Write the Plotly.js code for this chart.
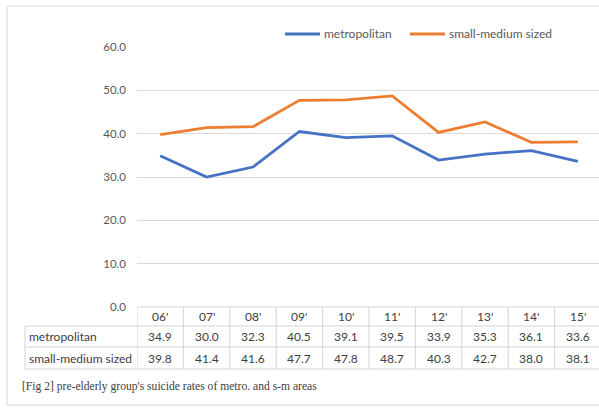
<!DOCTYPE html>
<html>
<head>
<meta charset="utf-8">
<script src="https://cdn.plot.ly/plotly-3.0.1.min.js"></script>
<style>
html, body { margin:0; padding:0; overflow:hidden; background:#fff; }
#chart { width:601px; height:413px; }
</style>
</head>
<body>
<div id="chart"></div>
<script>
var years = ["06'", "07'", "08'", "09'", "10'", "11'", "12'", "13'", "14'", "15'"];
var metroName = "metropolitan";
var smName = "small-medium sized";
var metro = [34.9, 30.0, 32.3, 40.5, 39.1, 39.5, 33.9, 35.3, 36.1, 33.6];
var smallMedium = [39.8, 41.4, 41.6, 47.7, 47.8, 48.7, 40.3, 42.7, 38.0, 38.1];
var caption = "[Fig 2] pre-elderly group's suicide rates of metro. and s-m areas";
var seriesNames = [metroName, smName];
var seriesColors = ["#4472C4", "#ED7D31"];

var W = 601, H = 413, L = 137, T = 47, B = 106, R = 0;
var pw = W - L - R, ph = H - T - B;
function px(x) { return (x - L) / pw; }
function py(y) { return (H - B - y) / ph; }

var FONT = "Lato, 'Open Sans', sans-serif";
var lineCol = "#d4d4d4";
var txtCol = "#404040";
var idx = years.map(function(_, i){ return i; });

var traces = [
  { x: idx, y: metro, name: metroName, type: "scatter", mode: "lines",
    line: { color: seriesColors[0], width: 2.8 }, hoverinfo: "skip", showlegend: false },
  { x: idx, y: smallMedium, name: smName, type: "scatter", mode: "lines",
    line: { color: seriesColors[1], width: 2.8 }, hoverinfo: "skip", showlegend: false }
];

var shapes = [];
var annotations = [];
var rowTop = 307, r1 = 326, r2 = 347, r3 = 369, leftX = 25;

// horizontal table lines
shapes.push({ type:"line", xref:"paper", yref:"paper", x0:0, x1:1, y0:py(rowTop), y1:py(rowTop), line:{color:lineCol, width:1} });
[r1, r2, r3].forEach(function(y){
  shapes.push({ type:"line", xref:"paper", yref:"paper", x0:px(leftX), x1:1, y0:py(y), y1:py(y), line:{color:lineCol, width:1} });
});
// vertical lines
shapes.push({ type:"line", xref:"paper", yref:"paper", x0:px(leftX), x1:px(leftX), y0:py(r1), y1:py(r3), line:{color:lineCol, width:1} });
for (var i = 0; i <= years.length; i++) {
  shapes.push({ type:"line", xref:"x", yref:"paper", x0:i-0.5, x1:i-0.5, y0:py(rowTop), y1:py(r3), line:{color:lineCol, width:1} });
}
// outer frame
shapes.push({ type:"rect", xref:"paper", yref:"paper", x0:px(7), x1:px(640), y0:py(6), y1:py(405), line:{color:"#d9d9d9", width:1}, layer:"below" });

// legend (manual, Excel style)
var legX = [285, 410];
seriesNames.forEach(function(nm, k){
  shapes.push({ type:"line", xref:"paper", yref:"paper", x0:px(legX[k]), x1:px(legX[k]+35), y0:py(34), y1:py(34),
    line:{color:seriesColors[k], width:2.8} });
  annotations.push({ xref:"paper", yref:"paper", x:px(legX[k]+37), y:py(34), text:nm, showarrow:false,
    font:{ family: FONT, size: 12, color: "#595959" }, xanchor:"left", yanchor:"middle" });
});

var tf = { family: FONT, size: 12, color: txtCol };
years.forEach(function(yr, i){
  annotations.push({ xref:"x", yref:"paper", x:i, y:py((rowTop+r1)/2), text:yr, showarrow:false, font:tf, xanchor:"center", yanchor:"middle" });
  annotations.push({ xref:"x", yref:"paper", x:i, y:py((r1+r2)/2), text:metro[i].toFixed(1), showarrow:false, font:tf, xanchor:"center", yanchor:"middle" });
  annotations.push({ xref:"x", yref:"paper", x:i, y:py((r2+r3)/2), text:smallMedium[i].toFixed(1), showarrow:false, font:tf, xanchor:"center", yanchor:"middle" });
});
annotations.push({ xref:"paper", yref:"paper", x:px(27), y:py((r1+r2)/2), text:metroName, showarrow:false, font:tf, xanchor:"left", yanchor:"middle" });
annotations.push({ xref:"paper", yref:"paper", x:px(27), y:py((r2+r3)/2), text:smName, showarrow:false, font:tf, xanchor:"left", yanchor:"middle" });
annotations.push({ xref:"paper", yref:"paper", x:px(20), y:py(386), text:caption, showarrow:false,
  font:{ family:"'Liberation Serif', 'DejaVu Serif', serif", size:11.6, color:"#404040" }, xanchor:"left", yanchor:"middle" });

var layout = {
  width: W, height: H,
  margin: { l: L, r: R, t: T, b: B, pad: 0 },
  paper_bgcolor: "#fff", plot_bgcolor: "#fff",
  font: { family: FONT, color: "#595959" },
  showlegend: false,
  xaxis: { range: [-0.5, years.length - 0.5], showticklabels: false, showgrid: false, zeroline: false,
           showline: false, ticks: "", fixedrange: true },
  yaxis: { range: [0, 60], dtick: 10, tickformat: ".1f", showgrid: true, gridcolor: "#d9d9d9", gridwidth: 1,
           zeroline: false, showline: false, ticks: "", ticklabelstandoff: 10,
           tickfont: { family: FONT, size: 11.5, color: "#595959" }, fixedrange: true },
  shapes: shapes,
  annotations: annotations
};

Plotly.newPlot("chart", traces, layout, { displayModeBar: false, staticPlot: true });
</script>
</body>
</html>
